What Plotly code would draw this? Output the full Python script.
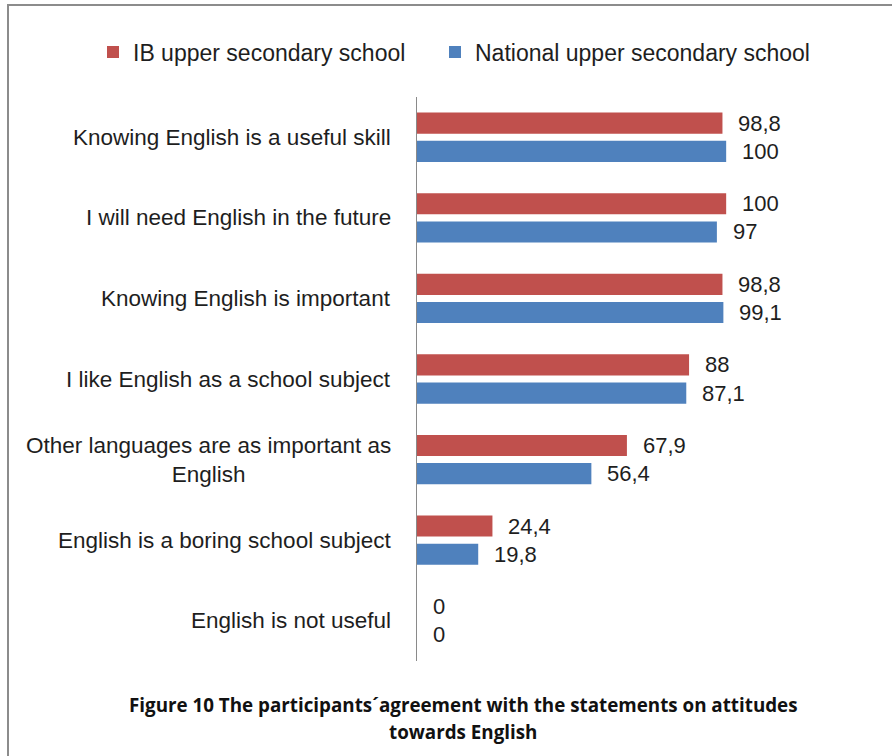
import plotly.graph_objects as go

# Statements (top to bottom) and agreement percentages per school type
statements = [
    "Knowing English is a useful skill",
    "I will need English in the future",
    "Knowing English is important",
    "I like English as a school subject",
    "Other languages are as important as<br>English",
    "English is a boring school subject",
    "English is not useful",
]
ib_values = [98.8, 100, 98.8, 88, 67.9, 24.4, 0]
national_values = [100, 97, 99.1, 87.1, 56.4, 19.8, 0]

series_names = ["IB upper secondary school", "National upper secondary school"]
series_colors = ["#C0504D", "#4F81BD"]

caption_lines = [
    "Figure 10 The participants´agreement with the statements on attitudes",
    "towards English",
]

# Figure geometry (pixels)
W, H = 892, 756
L, R, T, B = 417, 104, 97, 95
plot_w = W - L - R
plot_h = H - T - B
x_max = 120
FONT = "Liberation Sans Narrow, Arial Narrow, sans-serif"
CAPTION_FONT = "Open Sans, Liberation Sans, sans-serif"
TEXT_COLOR = "#1e1e1e"


def px_x(px):
    return (px - L) / plot_w


def px_y(py):
    return (H - B - py) / plot_h


def fmt(v):
    return f"{v:g}".replace(".", ",")


# Each series gets its own legend box so the two entries can be spaced freely
legend_ids = ["legend", "legend2"]
legend_left_px = [93, 435]

fig = go.Figure()
for name, vals, color, lg in zip(series_names, [ib_values, national_values],
                                 series_colors, legend_ids):
    fig.add_trace(go.Bar(
        y=statements, x=vals, name=name, orientation="h",
        marker=dict(color=color, line=dict(width=0)),
        hoverinfo="x+y", legend=lg,
    ))

annotations = []
# Category labels, centred line by line and right-aligned against the axis
for s in statements:
    annotations.append(dict(
        x=0, y=s, xref="x", yref="y", text=s, showarrow=False,
        xanchor="right", yanchor="middle", align="center", xshift=-24,
        font=dict(family=FONT, size=22.5, color=TEXT_COLOR),
    ))

# Value labels next to each bar
slot_px = plot_h / len(statements) * 0.7 / 2
for vals, shift in [(ib_values, slot_px / 2), (national_values, -slot_px / 2)]:
    for s, v in zip(statements, vals):
        annotations.append(dict(
            x=v, y=s, xref="x", yref="y", text=fmt(v), showarrow=False,
            xanchor="left", yanchor="middle", xshift=14, yshift=shift,
            font=dict(family=FONT, size=22, color=TEXT_COLOR),
        ))

# Figure caption below the chart
for line, cy in zip(caption_lines, [705, 732]):
    annotations.append(dict(
        x=px_x(463), y=px_y(cy), xref="paper", yref="paper",
        text="<b>" + line + "</b>",
        showarrow=False, xanchor="center", yanchor="middle",
        font=dict(family=CAPTION_FONT, size=18.8, color="#111111"),
    ))

shapes = [
    dict(type="line", xref="paper", yref="paper",
         x0=px_x(7), x1=px_x(W + 2), y0=px_y(5), y1=px_y(5),
         line=dict(color="#8c8c8c", width=2)),
    dict(type="line", xref="paper", yref="paper",
         x0=px_x(8), x1=px_x(8), y0=px_y(4), y1=px_y(H + 2),
         line=dict(color="#8c8c8c", width=2)),
]

legend_style = dict(
    orientation="h", xanchor="left", y=px_y(52), yanchor="middle",
    font=dict(family=FONT, size=23, color=TEXT_COLOR),
    itemwidth=30, bgcolor="rgba(0,0,0,0)",
)

fig.update_layout(
    width=W, height=H,
    margin=dict(l=L, r=R, t=T, b=B, pad=0),
    paper_bgcolor="white", plot_bgcolor="white",
    barmode="group", bargap=0.3, bargroupgap=0.25,
    font=dict(family=FONT, color=TEXT_COLOR),
    showlegend=True,
    legend=dict(x=px_x(legend_left_px[0]), **legend_style),
    legend2=dict(x=px_x(legend_left_px[1]), **legend_style),
    xaxis=dict(range=[0, x_max], visible=False, fixedrange=True),
    yaxis=dict(
        type="category", categoryorder="array", categoryarray=statements,
        range=[len(statements) - 0.5, -0.5],
        showticklabels=False, ticks="", showgrid=False, zeroline=False,
        showline=True, linecolor="#8a8a8a", linewidth=1,
    ),
    annotations=annotations,
    shapes=shapes,
)

fig.write_html("out.html")
